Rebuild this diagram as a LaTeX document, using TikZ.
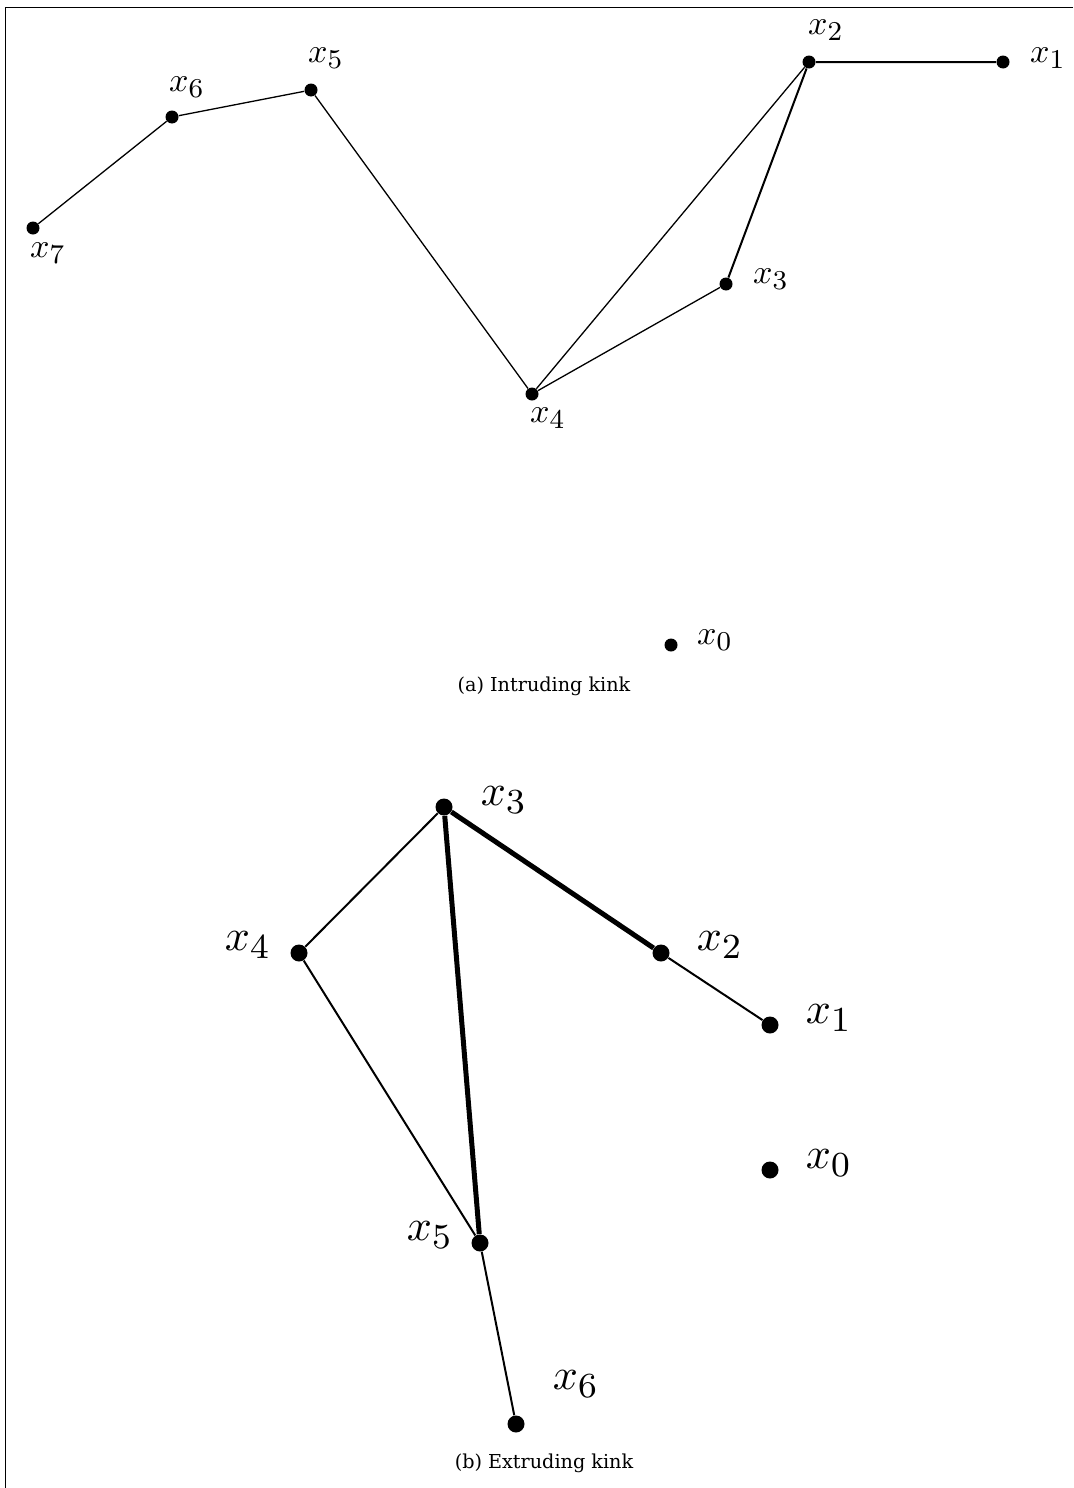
\documentclass[tikz,border=0pt]{standalone}
\usepackage{amsmath}
\usepackage{fontspec}
\usepackage{tikz}
\usetikzlibrary{positioning}
\newfontfamily\capfont{DejaVu Serif}
\DeclareMathSizes{10}{10}{8}{6}

\begin{document}
\begin{tikzpicture}[
    x=0.5pt, y=-0.5pt,
    vtx/.style={circle, fill=black, inner sep=0pt, minimum size=6.5pt},
    bigvtx/.style={circle, fill=black, inner sep=0pt, minimum size=8.5pt},
    lbl/.style={inner sep=0pt, scale=1.7},
    biglbl/.style={inner sep=0pt, scale=2.2},
    subcaption/.style={inner sep=0pt, font=\capfont\fontsize{9.6}{12}\selectfont},
    edge/.style={line width=0.65pt},
    heavy/.style={line width=2.5pt}
]
\useasboundingbox (0,0) rectangle (1073,1488);
\draw[line width=0.5pt] (1073,7) -- (5,7) -- (5,1488);

% (a) intruding kink
\node[vtx] (a1) at (1003,62) {};
\node[vtx] (a2) at (809,62) {};
\node[vtx] (a3) at (726,284) {};
\node[vtx] (a4) at (532,394) {};
\node[vtx] (a5) at (311,90) {};
\node[vtx] (a6) at (172,117) {};
\node[vtx] (a7) at (33,228) {};
\node[vtx] (a0) at (671,645) {};

\node[lbl] (la1) at (1048,58) {$x_1$};
\node[lbl] (la2) at (826,30) {$x_2$};
\node[lbl] (la3) at (771,279) {$x_3$};
\node[lbl] (la4) at (548,418) {$x_4$};
\node[lbl] (la5) at (326,58) {$x_5$};
\node[lbl] (la6) at (187,87) {$x_6$};
\node[lbl] (la7) at (48,253) {$x_7$};
\node[lbl] (la0) at (715,640) {$x_0$};

\draw[edge, line width=1pt] (a1) -- (a2) -- (a3);
\draw[edge] (a3) -- (a4) -- (a2);
\draw[edge] (a4) -- (a5) -- (a6) -- (a7);

\node[subcaption] (capa) at (544,686) {(a) Intruding kink};

% (b) extruding kink
\node[bigvtx] (b3) at (444,807) {};
\node[bigvtx] (b4) at (299,953) {};
\node[bigvtx] (b2) at (661,953) {};
\node[bigvtx] (b1) at (770,1025) {};
\node[bigvtx] (b0) at (770,1170) {};
\node[bigvtx] (b5) at (480,1243) {};
\node[bigvtx] (b6) at (516,1424) {};

\node[biglbl] (lb3) at (504,800) {$x_3$};
\node[biglbl] (lb4) at (248,945) {$x_4$};
\node[biglbl] (lb2) at (720,945) {$x_2$};
\node[biglbl] (lb1) at (829,1018) {$x_1$};
\node[biglbl] (lb0) at (829,1163) {$x_0$};
\node[biglbl] (lb5) at (430,1235) {$x_5$};
\node[biglbl] (lb6) at (576,1384) {$x_6$};

\draw[edge, line width=1pt] (b4) -- (b3);
\draw[edge, line width=1pt] (b4) -- (b5) -- (b6);
\draw[edge, line width=1pt] (b2) -- (b1);
\draw[heavy] (b2) -- (b3) -- (b5);

\node[subcaption] (capb) at (544,1463) {(b) Extruding kink};

\end{tikzpicture}
\end{document}
